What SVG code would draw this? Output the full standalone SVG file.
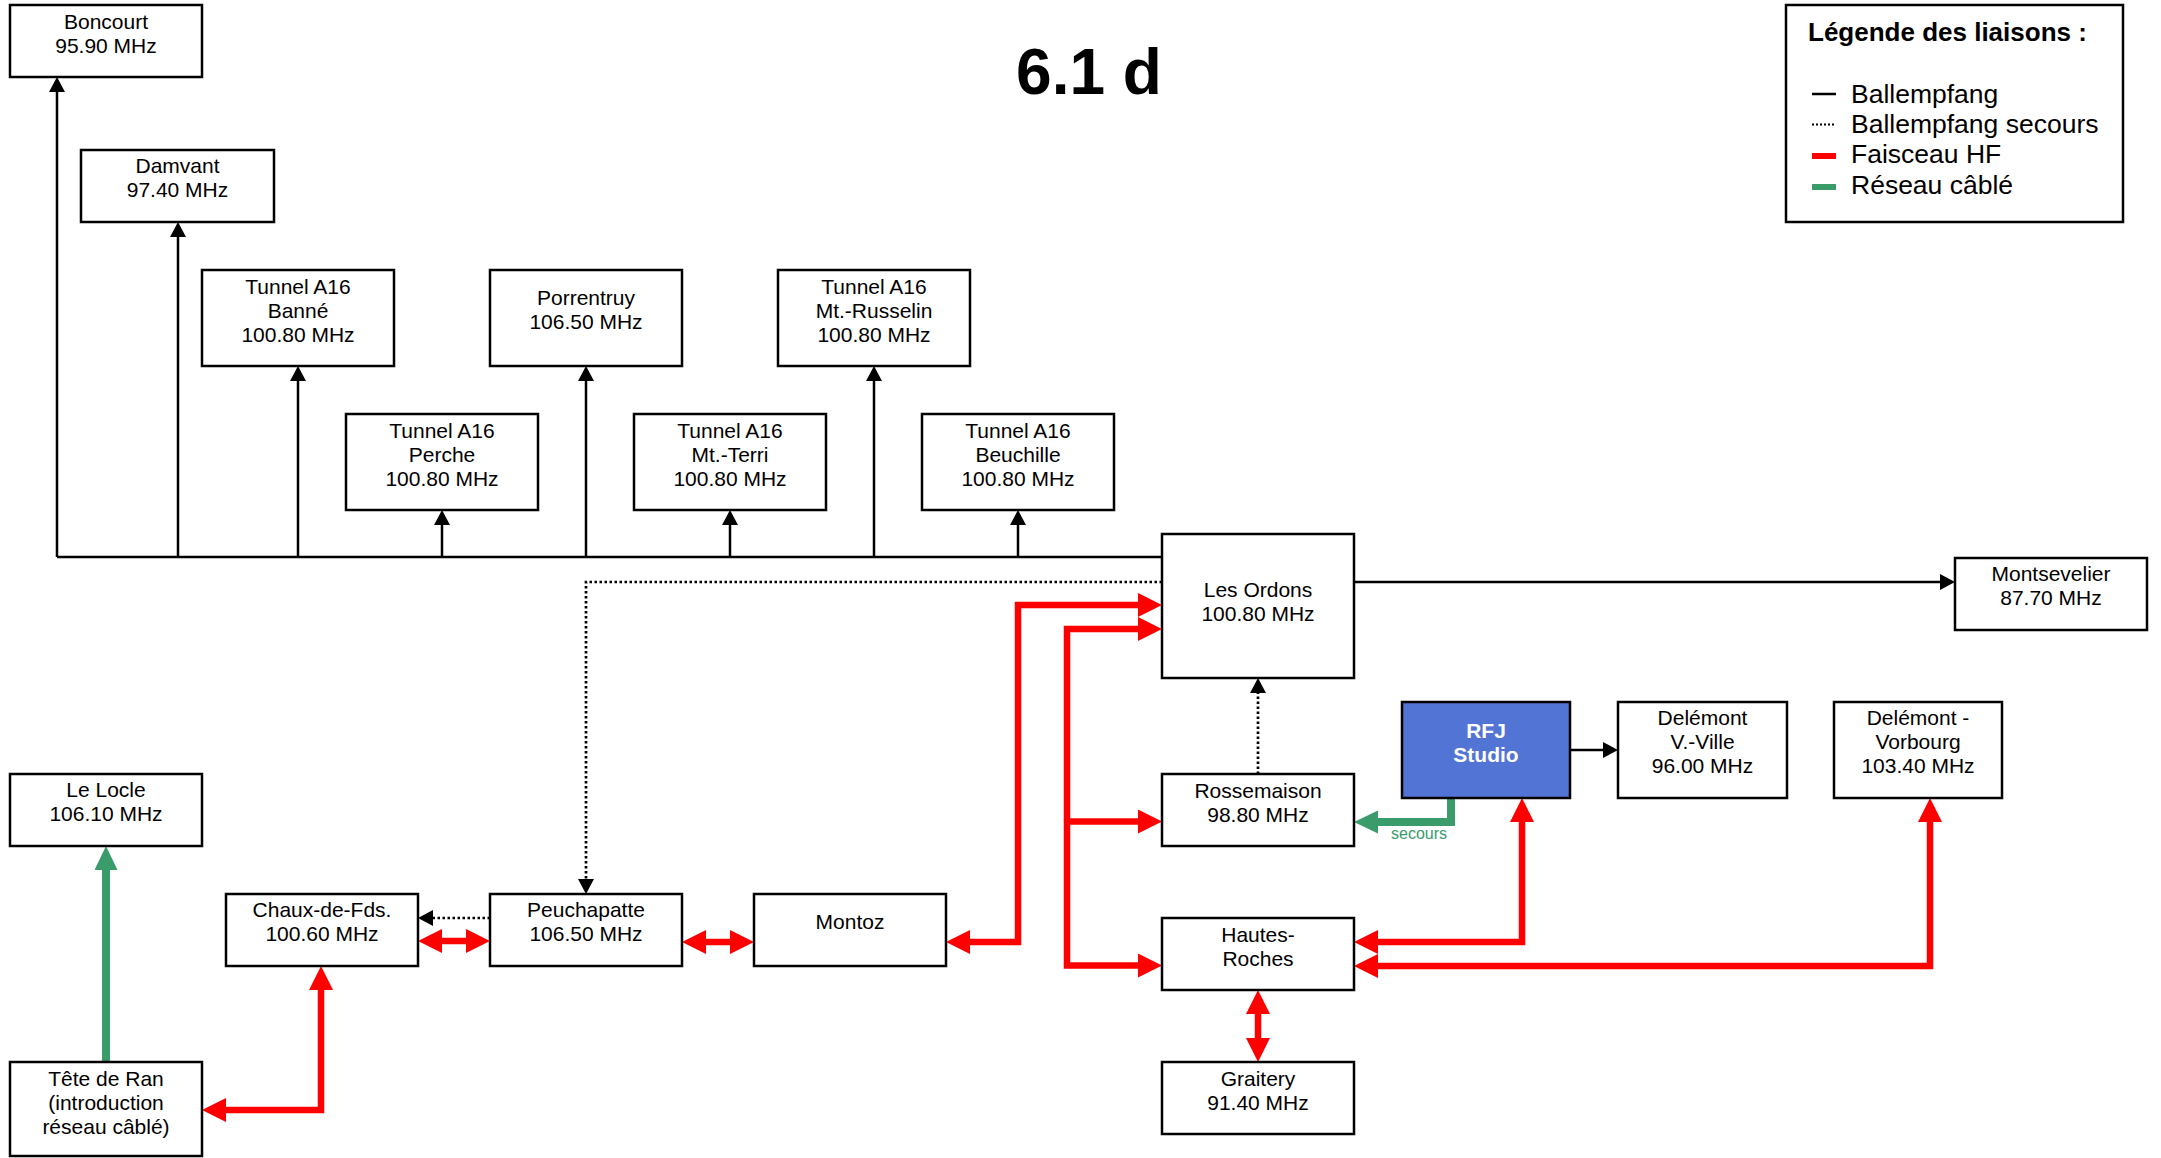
<svg xmlns="http://www.w3.org/2000/svg" width="2161" height="1158" viewBox="0 0 2161 1158">
<style>
.box{fill:#fff;stroke:#000;stroke-width:2.5}
.t{font-family:"Liberation Sans",Arial,sans-serif;font-size:21px;fill:#000;text-anchor:middle}
.tw{font-family:"Liberation Sans",Arial,sans-serif;font-size:21px;font-weight:bold;fill:#fff;text-anchor:middle}
.ball{fill:none;stroke:#000;stroke-width:2.5}
.sec{fill:none;stroke:#000;stroke-width:2.7;stroke-dasharray:2.5 2.5}
.hf{fill:none;stroke:#ff0000;stroke-width:6.5;stroke-linejoin:miter}
.cable{fill:none;stroke:#3a9b6b;stroke-width:8;stroke-linejoin:miter}
.lg{font-family:"Liberation Sans",Arial,sans-serif;font-size:26.5px;fill:#000}
</style>
<defs>
<marker id="ab" markerUnits="userSpaceOnUse" viewBox="0 0 15 16" markerWidth="15" markerHeight="16" refX="3" refY="8" orient="auto-start-reverse"><path d="M0,0 L15,8 L0,16 z" fill="#000"/></marker>
<marker id="ar" markerUnits="userSpaceOnUse" viewBox="0 0 24 24" markerWidth="24" markerHeight="24" refX="2" refY="12" orient="auto-start-reverse"><path d="M0,0 L24,12 L0,24 z" fill="#ff0000"/></marker>
<marker id="ag" markerUnits="userSpaceOnUse" viewBox="0 0 24 23" markerWidth="24" markerHeight="23" refX="2" refY="11.5" orient="auto-start-reverse"><path d="M0,0 L24,11.5 L0,23 z" fill="#3a9b6b"/></marker>
</defs>
<rect width="2161" height="1158" fill="#fff"/>
<text x="1089" y="94" font-family="Liberation Sans,Arial,sans-serif" font-size="64" font-weight="bold" text-anchor="middle">6.1 d</text>
<g id="legend">
<rect x="1786" y="5" width="337" height="217" class="box"/>
<text x="1808" y="41" font-family="Liberation Sans,Arial,sans-serif" font-size="26" font-weight="bold">Légende des liaisons :</text>
<line x1="1812" y1="94" x2="1836" y2="94" stroke="#000" stroke-width="2.5"/>
<line x1="1812" y1="124.5" x2="1836" y2="124.5" stroke="#000" stroke-width="2" stroke-dasharray="2 2"/>
<line x1="1812" y1="156" x2="1836" y2="156" stroke="#ff0000" stroke-width="6"/>
<line x1="1812" y1="187" x2="1836" y2="187" stroke="#3a9b6b" stroke-width="6"/>
<text x="1851" y="103" class="lg">Ballempfang</text>
<text x="1851" y="133" class="lg">Ballempfang secours</text>
<text x="1851" y="163" class="lg">Faisceau HF</text>
<text x="1851" y="194" class="lg">Réseau câblé</text>
</g>
<g id="connectors">
<path class="ball" d="M57,557 H1162"/>
<path class="ball" d="M57,557 V89" marker-end="url(#ab)"/>
<path class="ball" d="M178,557 V234" marker-end="url(#ab)"/>
<path class="ball" d="M298,557 V378" marker-end="url(#ab)"/>
<path class="ball" d="M442,557 V522" marker-end="url(#ab)"/>
<path class="ball" d="M586,557 V378" marker-end="url(#ab)"/>
<path class="ball" d="M730,557 V522" marker-end="url(#ab)"/>
<path class="ball" d="M874,557 V378" marker-end="url(#ab)"/>
<path class="ball" d="M1018,557 V522" marker-end="url(#ab)"/>
<path class="ball" d="M1354,582 H1943" marker-end="url(#ab)"/>
<path class="ball" d="M1570,750 H1606" marker-end="url(#ab)"/>
<path class="sec" d="M1162,582 H586 V882" marker-end="url(#ab)"/>
<path class="sec" d="M490,918 H430" marker-end="url(#ab)"/>
<path class="sec" d="M1258,774 V690" marker-end="url(#ab)"/>
<path class="hf" d="M224,1110 H321 V988" marker-start="url(#ar)" marker-end="url(#ar)"/>
<path class="hf" d="M440,941 H468" marker-start="url(#ar)" marker-end="url(#ar)"/>
<path class="hf" d="M704,942 H732" marker-start="url(#ar)" marker-end="url(#ar)"/>
<path class="hf" d="M968,942 H1018 V605 H1140" marker-start="url(#ar)" marker-end="url(#ar)"/>
<path class="hf" d="M1140,629 H1067 V965.5 H1140" marker-start="url(#ar)" marker-end="url(#ar)"/>
<path class="hf" d="M1067,821.5 H1140" marker-end="url(#ar)"/>
<path class="hf" d="M1258,1012 V1040" marker-start="url(#ar)" marker-end="url(#ar)"/>
<path class="hf" d="M1522,820 V942 H1376" marker-start="url(#ar)" marker-end="url(#ar)"/>
<path class="hf" d="M1930,820 V966 H1376" marker-start="url(#ar)" marker-end="url(#ar)"/>
<path class="cable" d="M106,1062 V868" marker-end="url(#ag)"/>
<path class="cable" d="M1451,798 V822 H1376" marker-end="url(#ag)"/>
<text x="1419" y="839" font-family="Liberation Sans,Arial,sans-serif" font-size="16" fill="#3a9b6b" text-anchor="middle">secours</text>
</g>
<g id="boncourt"><rect class="box" x="10" y="5" width="192" height="72"/><text class="t" x="106" y="29">Boncourt</text><text class="t" x="106" y="53">95.90 MHz</text></g>
<g id="damvant"><rect class="box" x="81" y="150" width="193" height="72"/><text class="t" x="177.5" y="173">Damvant</text><text class="t" x="177.5" y="197">97.40 MHz</text></g>
<g id="banne"><rect class="box" x="202" y="270" width="192" height="96"/><text class="t" x="298" y="293.5">Tunnel A16</text><text class="t" x="298" y="317.5">Banné</text><text class="t" x="298" y="341.5">100.80 MHz</text></g>
<g id="perche"><rect class="box" x="346" y="414" width="192" height="96"/><text class="t" x="442" y="437.5">Tunnel A16</text><text class="t" x="442" y="461.5">Perche</text><text class="t" x="442" y="485.5">100.80 MHz</text></g>
<g id="porrentruy"><rect class="box" x="490" y="270" width="192" height="96"/><text class="t" x="586" y="305">Porrentruy</text><text class="t" x="586" y="329">106.50 MHz</text></g>
<g id="mtterri"><rect class="box" x="634" y="414" width="192" height="96"/><text class="t" x="730" y="437.5">Tunnel A16</text><text class="t" x="730" y="461.5">Mt.-Terri</text><text class="t" x="730" y="485.5">100.80 MHz</text></g>
<g id="russelin"><rect class="box" x="778" y="270" width="192" height="96"/><text class="t" x="874" y="293.5">Tunnel A16</text><text class="t" x="874" y="317.5">Mt.-Russelin</text><text class="t" x="874" y="341.5">100.80 MHz</text></g>
<g id="beuchille"><rect class="box" x="922" y="414" width="192" height="96"/><text class="t" x="1018" y="437.5">Tunnel A16</text><text class="t" x="1018" y="461.5">Beuchille</text><text class="t" x="1018" y="485.5">100.80 MHz</text></g>
<g id="ordons"><rect class="box" x="1162" y="534" width="192" height="144"/><text class="t" x="1258" y="597">Les Ordons</text><text class="t" x="1258" y="621">100.80 MHz</text></g>
<g id="montsevelier"><rect class="box" x="1955" y="558" width="192" height="72"/><text class="t" x="2051" y="581">Montsevelier</text><text class="t" x="2051" y="605">87.70 MHz</text></g>
<g id="lelocle"><rect class="box" x="10" y="774" width="192" height="72"/><text class="t" x="106" y="797">Le Locle</text><text class="t" x="106" y="821">106.10 MHz</text></g>
<g id="chaux"><rect class="box" x="226" y="894" width="192" height="72"/><text class="t" x="322" y="917">Chaux-de-Fds.</text><text class="t" x="322" y="941">100.60 MHz</text></g>
<g id="peuchapatte"><rect class="box" x="490" y="894" width="192" height="72"/><text class="t" x="586" y="917">Peuchapatte</text><text class="t" x="586" y="941">106.50 MHz</text></g>
<g id="montoz"><rect class="box" x="754" y="894" width="192" height="72"/><text class="t" x="850" y="929">Montoz</text></g>
<g id="rossemaison"><rect class="box" x="1162" y="774" width="192" height="72"/><text class="t" x="1258" y="797.5">Rossemaison</text><text class="t" x="1258" y="821.5">98.80 MHz</text></g>
<g id="hautesroches"><rect class="box" x="1162" y="918" width="192" height="72"/><text class="t" x="1258" y="942">Hautes-</text><text class="t" x="1258" y="966">Roches</text></g>
<g id="graitery"><rect class="box" x="1162" y="1062" width="192" height="72"/><text class="t" x="1258" y="1086">Graitery</text><text class="t" x="1258" y="1110">91.40 MHz</text></g>
<g id="teteran"><rect class="box" x="10" y="1062" width="192" height="94"/><text class="t" x="106" y="1086">Tête de Ran</text><text class="t" x="106" y="1110">(introduction</text><text class="t" x="106" y="1134">réseau câblé)</text></g>
<g id="rfj"><rect x="1402" y="702" width="168" height="96" fill="#5274d4" stroke="#000" stroke-width="2.5"/><text class="tw" x="1486" y="738">RFJ</text><text class="tw" x="1486" y="762">Studio</text></g>
<g id="delemont-vville"><rect class="box" x="1618" y="702" width="169" height="96"/><text class="t" x="1702.5" y="725">Delémont</text><text class="t" x="1702.5" y="749">V.-Ville</text><text class="t" x="1702.5" y="773">96.00 MHz</text></g>
<g id="delemont-vorbourg"><rect class="box" x="1834" y="702" width="168" height="96"/><text class="t" x="1918" y="725">Delémont -</text><text class="t" x="1918" y="749">Vorbourg</text><text class="t" x="1918" y="773">103.40 MHz</text></g>
</svg>
